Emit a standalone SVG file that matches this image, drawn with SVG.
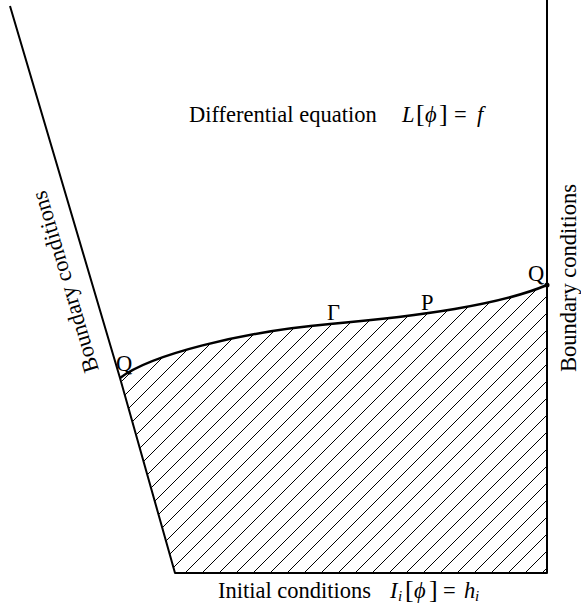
<svg xmlns="http://www.w3.org/2000/svg" width="581" height="612" viewBox="0 0 581 612">
<style>
.t{font-family:"Liberation Serif","Times New Roman",serif;font-size:22.5px;fill:#000}
.i{font-style:italic}
.br{font-size:26px}
.edge{fill:none;stroke:#000;stroke-width:2;stroke-linejoin:round}
.curve{fill:none;stroke:#000;stroke-width:2.5}
</style>
<defs>
<pattern id="hatch" patternUnits="userSpaceOnUse" x="10" y="0" width="17" height="17">
<path d="M0,17 L17,0 M-3,3 L3,-3 M14,20 L20,14" stroke="#000" stroke-width="1"/>
</pattern>
</defs>
<rect width="581" height="612" fill="#fff"/>
<g id="region">
<path d="M120,378 C150,355 240,332 330,324 C420,316 500,305 547,285 L547,573 L175,573 Z" fill="url(#hatch)"/>
</g>
<g id="connectors">
<path class="edge" d="M10,6 L120,378 L175,573 L547,573 L547,0"/>
<path class="curve" d="M120,378 C150,355 240,332 330,324 C420,316 500,305 547,285"/>
<circle cx="547" cy="285" r="2.5" fill="#000"/>
</g>
<g id="de-label">
<text class="t" x="189" y="122">Differential equation</text>
<text class="t" y="122"><tspan class="i" x="402">L</tspan><tspan class="br" x="416">[</tspan><tspan class="i" x="425">ϕ</tspan><tspan class="br" x="439">]</tspan><tspan x="454">=</tspan><tspan class="i" x="477">f</tspan></text>
</g>
<g id="ic-label">
<text class="t" x="218" y="598">Initial conditions</text>
<text class="t" y="598"><tspan class="i" x="390">I</tspan><tspan class="i" x="398" y="601" font-size="15">i</tspan><tspan class="br" x="405" y="598">[</tspan><tspan class="i" x="414">ϕ</tspan><tspan class="br" x="429">]</tspan><tspan x="443">=</tspan><tspan class="i" x="464">h</tspan><tspan class="i" x="475" y="601" font-size="15">i</tspan></text>
</g>
<g id="bc-left">
<text class="t" font-size="23.3" transform="translate(99,370) rotate(-106.5)">Boundary conditions</text>
</g>
<g id="bc-right">
<text class="t" transform="translate(576,372) rotate(-90)">Boundary conditions</text>
</g>
<g id="labels">
<text class="t" x="116" y="371" font-size="21">Q</text>
<text class="t" x="528" y="281" font-size="21">Q</text>
<text class="t" x="327" y="320" font-size="19">Γ</text>
<text class="t" x="421" y="310" font-size="19">P</text>
</g>
</svg>
